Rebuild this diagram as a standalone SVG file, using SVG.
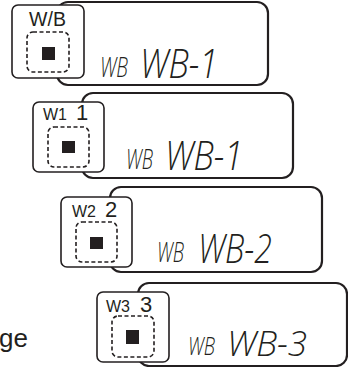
<svg xmlns="http://www.w3.org/2000/svg" width="348" height="367" viewBox="0 0 348 367">
<style>
.disp{fill:#fff;stroke:#231f20;stroke-width:2.2}
.btn{fill:#fff;stroke:#231f20;stroke-width:1.6}
.dash{fill:none;stroke:#231f20;stroke-width:1.6;stroke-dasharray:4 2.5}
.sq{fill:#231f20}
.lbl{font-family:"Liberation Sans",Arial,sans-serif;fill:#231f20}
.lcd{font-family:"Open Sans","DejaVu Sans",sans-serif;font-weight:300;font-style:italic;fill:#231f20}
</style>
<rect width="348" height="367" fill="#fff"/>
<g id="panel1">
<rect class="disp" x="57" y="2" width="211" height="83" rx="11"/>
<rect class="btn" x="12" y="5" width="72" height="73" rx="6"/>
<text class="lbl" x="47.5" y="25.5" font-size="19.5" text-anchor="middle">W/B</text>
<rect class="dash" x="27" y="32" width="42" height="40" rx="6"/>
<rect class="sq" x="42" y="47" width="13" height="13"/>
<text class="lcd" x="100" y="77" font-size="27" textLength="28" lengthAdjust="spacingAndGlyphs">WB</text>
<text class="lcd" x="140" y="78" font-size="40" textLength="78" lengthAdjust="spacingAndGlyphs">WB-1</text>
</g>
<g id="panel2">
<rect class="disp" x="82" y="93" width="211" height="85" rx="11"/>
<rect class="btn" x="33" y="102" width="71" height="70" rx="6"/>
<text class="lbl" x="43" y="120" font-size="16">W1</text>
<text class="lbl" x="76" y="120" font-size="22">1</text>
<rect class="dash" x="48" y="127" width="41" height="40" rx="6"/>
<rect class="sq" x="62" y="141" width="13" height="12"/>
<text class="lcd" x="126" y="169" font-size="27" textLength="27" lengthAdjust="spacingAndGlyphs">WB</text>
<text class="lcd" x="165" y="170" font-size="40" textLength="78" lengthAdjust="spacingAndGlyphs">WB-1</text>
</g>
<g id="panel3">
<rect class="disp" x="110" y="187" width="212" height="85" rx="11"/>
<rect class="btn" x="61" y="197" width="71" height="70" rx="6"/>
<text class="lbl" x="72" y="217" font-size="16">W2</text>
<text class="lbl" x="105" y="217" font-size="22">2</text>
<rect class="dash" x="76" y="222" width="41" height="40" rx="6"/>
<rect class="sq" x="90" y="237" width="13" height="12"/>
<text class="lcd" x="157" y="262" font-size="27" textLength="27" lengthAdjust="spacingAndGlyphs">WB</text>
<text class="lcd" x="198" y="263" font-size="40" textLength="74" lengthAdjust="spacingAndGlyphs">WB-2</text>
</g>
<g id="panel4">
<rect class="disp" x="138" y="283" width="209" height="83" rx="11"/>
<rect class="btn" x="97" y="292" width="72" height="70" rx="6"/>
<text class="lbl" x="106" y="312" font-size="16">W3</text>
<text class="lbl" x="140" y="312" font-size="22">3</text>
<rect class="dash" x="112" y="316" width="42" height="41" rx="6"/>
<rect class="sq" x="126" y="330" width="13" height="14"/>
<text class="lcd" x="188" y="355" font-size="26" textLength="27" lengthAdjust="spacingAndGlyphs">WB</text>
<text class="lcd" x="227" y="356" font-size="34" textLength="80" lengthAdjust="spacingAndGlyphs">WB-3</text>
</g>
<g id="connectors"/>
<text class="lbl" x="-1" y="347" font-size="26" fill="#333">ge</text>
</svg>
